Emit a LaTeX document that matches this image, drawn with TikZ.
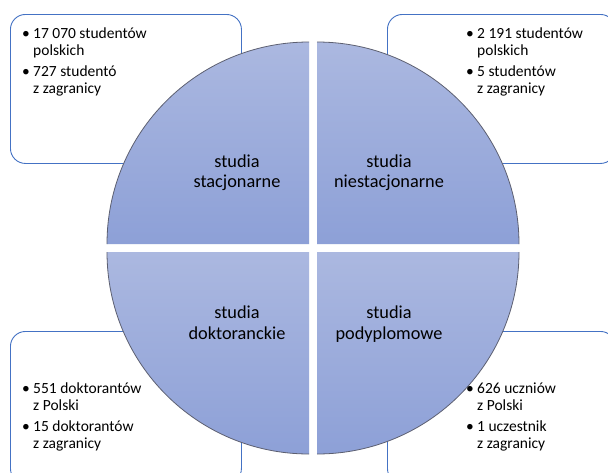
\documentclass[tikz,border=0pt]{standalone}
\usepackage{fontspec}
\setmainfont{Carlito}
\definecolor{boxblue}{HTML}{4472C4}
\definecolor{qtop}{HTML}{ABB8E0}
\definecolor{qbot}{HTML}{8DA0D7}
\definecolor{qedge}{HTML}{5C5F70}
\begin{document}
\begin{tikzpicture}[x=1pt,y=-1pt,
  infobox/.style={draw=boxblue, line width=0.9pt, rounded corners=15pt, fill=white, anchor=north west, inner sep=0pt},
  quad/.style={top color=qtop, bottom color=qbot},
  quadedge/.style={draw=qedge, line width=0.8pt},
  lbl/.style={anchor=base, inner sep=0pt, font=\fontsize{18.3}{20}\selectfont},
  btxt/.style={anchor=base west, inner sep=0pt, font=\fontsize{15.5}{17}\selectfont}]
\useasboundingbox (0,0) rectangle (608,472);
\fill[white] (0,0) rectangle (608,472);
% boxes
\node[infobox, minimum width=231pt, minimum height=149pt] (boxTL) at (10,14) {};
\node[infobox, minimum width=228pt, minimum height=149pt] (boxTR) at (387,14) {};
\node[infobox, minimum width=231pt, minimum height=152pt] (boxBL) at (10,331) {};
\node[infobox, minimum width=228pt, minimum height=152pt] (boxBR) at (387,331) {};
% quadrants
\shade[quad] (309,244) -- (107,244) arc[start angle=180,end angle=90,radius=202pt] -- cycle;
\draw[quadedge] (107,244) arc[start angle=180,end angle=90,radius=202pt];
\shade[quad] (317,244) -- (317,42) arc[start angle=90,end angle=0,radius=202pt] -- cycle;
\draw[quadedge] (317,42) arc[start angle=90,end angle=0,radius=202pt];
\shade[quad] (309,252) -- (309,454) arc[start angle=270,end angle=180,radius=202pt] -- cycle;
\draw[quadedge] (309,454) arc[start angle=270,end angle=180,radius=202pt];
\shade[quad] (317,252) -- (519,252) arc[start angle=0,end angle=-90,radius=202pt] -- cycle;
\draw[quadedge] (519,252) arc[start angle=0,end angle=-90,radius=202pt];
% labels
\node[lbl] (q1a) at (237,167) {studia};
\node[lbl] (q1b) at (237,187) {stacjonarne};
\node[lbl] (q2a) at (389,167) {studia};
\node[lbl] (q2b) at (389,187) {niestacjonarne};
\node[lbl] (q3a) at (237,318) {studia};
\node[lbl] (q3b) at (237,339) {doktoranckie};
\node[lbl] (q4a) at (389,318) {studia};
\node[lbl] (q4b) at (389,339) {podyplomowe};
% top-left text
\node[btxt] (t1a) at (22,38) {\makebox[11pt][l]{•}17 070 studentów};
\node[btxt] (t1b) at (33,55) {polskich};
\node[btxt] (t1c) at (22,76) {\makebox[11pt][l]{•}727 studentó};
\node[btxt] (t1d) at (33,93) {z zagranicy};
% top-right text
\node[btxt] (t2a) at (466,38) {\makebox[11pt][l]{•}2 191 studentów};
\node[btxt] (t2b) at (477,55) {polskich};
\node[btxt] (t2c) at (466,76) {\makebox[11pt][l]{•}5 studentów};
\node[btxt] (t2d) at (477,93) {z zagranicy};
% bottom-left text
\node[btxt] (t3a) at (22,393) {\makebox[11pt][l]{•}551 doktorantów};
\node[btxt] (t3b) at (33,410) {z Polski};
\node[btxt] (t3c) at (22,431) {\makebox[11pt][l]{•}15 doktorantów};
\node[btxt] (t3d) at (33,448) {z zagranicy};
% bottom-right text
\node[btxt] (t4a) at (466,393) {\makebox[11pt][l]{•}626 uczniów};
\node[btxt] (t4b) at (477,410) {z Polski};
\node[btxt] (t4c) at (466,431) {\makebox[11pt][l]{•}1 uczestnik};
\node[btxt] (t4d) at (477,448) {z zagranicy};
\end{tikzpicture}
\end{document}
